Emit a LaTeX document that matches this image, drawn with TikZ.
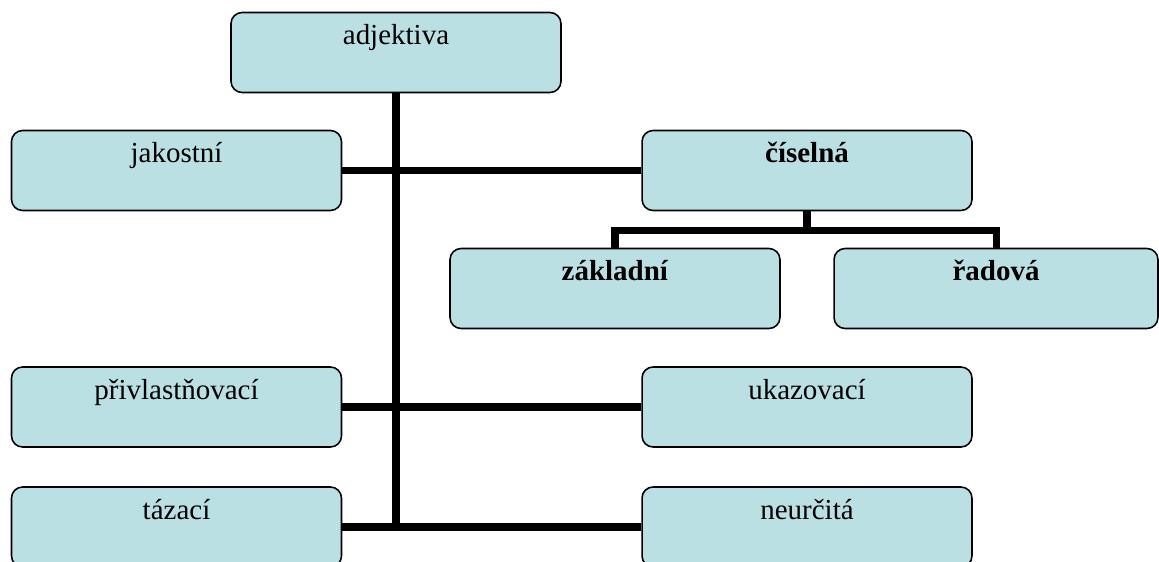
\documentclass[tikz,border=0pt]{standalone}
\usepackage{fontspec}
\setmainfont{Liberation Serif}
\usepackage{xcolor}
\usepackage{tikz}
\usetikzlibrary{calc}
\definecolor{boxfill}{RGB}{187,224,227}

\tikzset{
  catbox/.style={draw=black, line width=0.9pt, fill=boxfill, rounded corners=0.22cm,
    minimum width=6.6cm, inner xsep=0pt, inner ysep=0pt,
    text height=0.64cm, text depth=0.96cm},
  link/.style={line width=4pt}
}

\begin{document}
\begin{tikzpicture}[x=0.02cm, y=-0.02cm, font=\fontsize{16.5}{19}\selectfont]
  \useasboundingbox (0,0) rectangle (1159,561);
  \clip (0,0) rectangle (1159,561);
  % top
  \node[catbox] (adj) at (396,52.5) {adjektiva};
  % left column
  \node[catbox] (jak) at (176.5,170.5) {jakostní};
  \node[catbox] (priv) at (176.5,407) {přivlastňovací};
  \node[catbox] (taz) at (176.5,527) {tázací};
  % right column
  \node[catbox] (cis) at (807,170.5) {\textbf{číselná}};
  \node[catbox] (ukaz) at (807,407) {ukazovací};
  \node[catbox] (neur) at (807,527) {neurčitá};
  % under číselná
  \node[catbox] (zak) at (615,288.5) {\textbf{základní}};
  \node[catbox, minimum width=6.48cm] (rad) at (996,288.5) {\textbf{řadová}};

  \draw[link] (adj.south) -- (adj.south |- taz.east);
  \draw[link] (jak.east) -- (cis.west);
  \draw[link] (priv.east) -- (ukaz.west);
  \draw[link] (taz.east) -- (neur.west);
  \coordinate (split) at ($(cis.south)+(0,19)$);
  \draw[link] (cis.south) -- (split);
  \draw[link] (zak.north) |- (split) -| (rad.north);
\end{tikzpicture}
\end{document}
